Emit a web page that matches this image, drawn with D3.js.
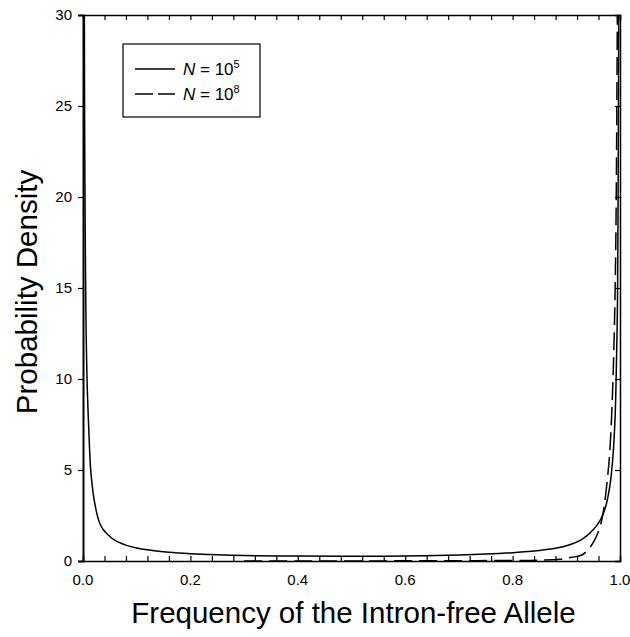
<!DOCTYPE html>
<html><head><meta charset="utf-8">
<script src="https://cdn.jsdelivr.net/npm/d3@7"></script>
<style>body{margin:0;background:#fff;} text{font-family:"Liberation Sans",Arial,sans-serif;fill:#000;}</style>
</head><body>
<svg id="c" width="630" height="637"></svg>
<script>
// Data
const seriesNames = ["N = 10^5", "N = 10^8"];
const xN5 = [0.0025,0.003,0.004,0.005,0.006,0.008,0.010,0.012,0.0143,0.017,0.020,0.024,0.0285,0.033,0.038,0.047,0.056,0.065,0.081,0.10,0.12,0.16,0.20,0.25,0.30,0.40,0.50,0.60,0.70,0.75,0.80,0.85,0.88,0.905,0.925,0.938,0.950,0.958,0.965,0.972,0.981,0.987,0.991,0.993,0.995,0.996,0.997,0.9977];
const yN5 = [30,24.5,18.5,14.8,12.3,9.4,7.8,6.3,5.0,4.2,3.5,2.85,2.3,1.95,1.72,1.43,1.2,1.05,0.86,0.72,0.62,0.48,0.40,0.34,0.30,0.27,0.26,0.28,0.33,0.38,0.46,0.58,0.7,0.88,1.12,1.38,1.72,2.0,2.35,2.85,4.1,5.8,8.0,10.3,13.5,17,24,30];
const xN8 = [0.30,0.40,0.50,0.60,0.70,0.80,0.85,0.888,0.91,0.929,0.941,0.952,0.963,0.970,0.975,0.980,0.984,0.988,0.991,0.993,0.995];
const yN8 = [0.0,0.002,0.004,0.008,0.015,0.03,0.05,0.1,0.2,0.33,0.64,1.1,1.9,2.9,4.1,5.6,7.7,11,15,20,30];
const xTicksMajor = [0.0,0.2,0.4,0.6,0.8,1.0];
const xTickLabels = ["0.0","0.2","0.4","0.6","0.8","1.0"];
const xTicksAll = d3.range(0,26).map(i=>i*0.04);
const yTicks = [0,5,10,15,20,25,30];

const svg = d3.select("#c");
const m = {l:83, r:620, t:15, b:561};
const x = d3.scaleLinear().domain([0,1]).range([m.l,m.r]);
const y = d3.scaleLinear().domain([0,30]).range([m.b,m.t]);

const plot = svg.append("g");
plot.append("clipPath").attr("id","clip").append("rect")
  .attr("x",m.l).attr("y",m.t).attr("width",m.r-m.l).attr("height",m.b-m.t);

const line = d3.line().x(d=>x(d[0])).y(d=>y(d[1])).curve(d3.curveCatmullRom.alpha(0.5));
const dN5 = xN5.map((v,i)=>[v,yN5[i]]);
const dN8 = xN8.map((v,i)=>[v,yN8[i]]);
const cg = plot.append("g").attr("clip-path","url(#clip)");
cg.append("path").attr("d",line(dN5)).attr("fill","none").attr("stroke","#000").attr("stroke-width",1.5);
cg.append("path").attr("d",line(dN8)).attr("fill","none").attr("stroke","#000").attr("stroke-width",1.5).attr("stroke-dasharray","18,7");

// axes
const xb = svg.append("g").attr("transform",`translate(0,${m.b})`)
  .call(d3.axisBottom(x).tickValues(xTicksAll).tickSize(-5).tickFormat(""));
const xt = svg.append("g").attr("transform",`translate(0,${m.t})`)
  .call(d3.axisTop(x).tickValues(xTicksAll).tickSize(-5).tickFormat(""));
const yl = svg.append("g").attr("transform",`translate(${m.l},0)`)
  .call(d3.axisLeft(y).tickValues(yTicks).tickSize(5).tickFormat(""));
const yr = svg.append("g").attr("transform",`translate(${m.r},0)`)
  .call(d3.axisRight(y).tickValues(yTicks).tickSize(-5).tickFormat(""));
[xb,xt,yl,yr].forEach(g=>{
  g.select(".domain").attr("stroke","#000").attr("stroke-width",1.5);
  g.selectAll(".tick line").attr("stroke","#000").attr("stroke-width",1.2);
});
yl.select(".domain").attr("stroke-width",2);

// tick labels
svg.append("g").selectAll("text").data(xTicksMajor).join("text")
  .attr("x",d=>x(d)).attr("y",585).attr("text-anchor","middle")
  .style("font-size","15px").text((d,i)=>xTickLabels[i]);
svg.append("g").selectAll("text").data(yTicks).join("text")
  .attr("x",72).attr("y",d=>y(d)+5).attr("text-anchor","end")
  .style("font-size","15px").text(d=>d);

// axis titles
svg.append("text").attr("x",(m.l+m.r)/2+2).attr("y",623).attr("text-anchor","middle")
  .style("font-size","29.5px").text("Frequency of the Intron-free Allele");
svg.append("text").attr("transform",`translate(37,${(m.t+m.b)/2+4}) rotate(-90)`)
  .attr("text-anchor","middle").style("font-size","29.5px").text("Probability Density");

// legend
const lg = svg.append("g");
lg.append("rect").attr("x",123).attr("y",44).attr("width",137).attr("height",73)
  .attr("fill","#fff").attr("stroke","#000").attr("stroke-width",1.2);
const legRows = [{dash:null,exp:"5",y:69},{dash:"18,5",exp:"8",y:94}];
legRows.forEach((r,i)=>{
  lg.append("line").attr("x1",135).attr("x2",175).attr("y1",r.y).attr("y2",r.y)
    .attr("stroke","#000").attr("stroke-width",1.3).attr("stroke-dasharray",r.dash);
  const t = lg.append("text").attr("x",183).attr("y",r.y+6).style("font-size","17px");
  t.append("tspan").style("font-style","italic").text("N");
  t.append("tspan").text(" = 10");
  t.append("tspan").attr("dy",-7).style("font-size","11px").text(r.exp);
});
</script>
</body></html>
